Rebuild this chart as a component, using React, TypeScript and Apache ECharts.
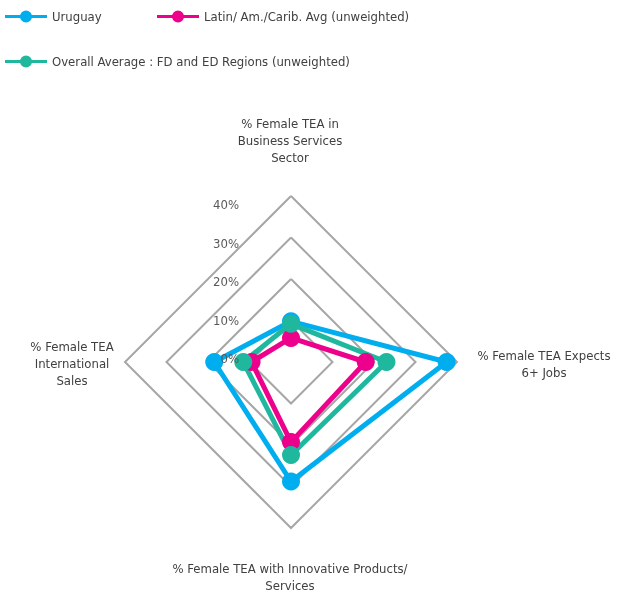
import React, { useEffect, useRef } from "react";
import * as echarts from "echarts";

const indicatorNames = [
  "% Female TEA in\nBusiness Services\nSector",
  "% Female TEA\nInternational\nSales",
  "% Female TEA with Innovative Products/\nServices",
  "% Female TEA Expects\n6+ Jobs",
];
const seriesNames = [
  "Uruguay",
  "Latin/ Am./Carib. Avg (unweighted)",
  "Overall Average : FD and ED Regions (unweighted)",
];
const uruguay = [9.8, 18.5, 28.8, 37.5];
const latinAvg = [5.8, 9.5, 19.3, 18.0];
const overallAvg = [9.2, 11.5, 22.4, 23.0];
const tickValues = [0, 10, 20, 30, 40];
const axisMax = 40;

const colors = ["#00AEEF", "#EC008C", "#1FB89E"];
const FONT = "'Liberation Sans Narrow', 'DejaVu Sans Condensed', sans-serif";
const LEGEND_ICON = "path://M0,4.5h42v3h-42zM15,6a6,6 0 1,1 12,0a6,6 0 1,1 -12,0z";

export default function App() {
  const ref = useRef<HTMLDivElement>(null);
  useEffect(() => {
    if (!ref.current) return;
    const chart = echarts.init(ref.current, undefined, { renderer: "svg" });
    const cx = 291;
    const cy = 362;
    const R = 166;
    const values = [uruguay, latinAvg, overallAvg];

    const labelPos = [
      { x: 290, y: 115, align: "center" },
      { x: 72, y: 338, align: "center" },
      { x: 290, y: 560, align: "center" },
      { x: 544, y: 347, align: "center" },
    ];

    const graphic: any[] = [];
    indicatorNames.forEach((n, i) => {
      graphic.push({
        type: "text",
        z: 100,
        style: {
          text: n,
          x: labelPos[i].x,
          y: labelPos[i].y,
          align: labelPos[i].align,
          verticalAlign: "top",
          lineHeight: 17,
          fill: "#404040",
          font: `13px ${FONT}`,
        },
      });
    });
    tickValues.forEach((v) => {
      graphic.push({
        type: "text",
        z: 100,
        style: {
          text: v + "%",
          x: 239,
          y: 358.4 - 3.84 * v,
          align: "right",
          verticalAlign: "middle",
          fill: "#595959",
          font: `13px ${FONT}`,
        },
      });
    });

    const legendBase = {
      icon: LEGEND_ICON,
      itemWidth: 42,
      itemHeight: 12,
      itemGap: 10,
      itemTextGap: 3,
      padding: 0,
      textStyle: { fontSize: 13, color: "#404040", fontFamily: FONT },
      selectedMode: false,
    };

    chart.setOption({
      animation: false,
      legend: [
        { ...legendBase, data: [seriesNames[0]], left: 5, top: 10 },
        { ...legendBase, data: [seriesNames[1]], left: 157, top: 10 },
        { ...legendBase, data: [seriesNames[2]], left: 5, top: 55 },
      ],
      radar: {
        center: [cx, cy],
        radius: R,
        shape: "polygon",
        startAngle: 90,
        splitNumber: 4,
        indicator: indicatorNames.map((n) => ({ name: n, min: 0, max: axisMax })),
        axisName: { show: false },
        axisLine: { show: false },
        axisTick: { show: false },
        axisLabel: { show: false },
        splitArea: { show: false },
        splitLine: { lineStyle: { color: "#A6A6A6", width: 2 } },
      },
      graphic,
      series: seriesNames.map((name, i) => ({
        type: "radar",
        name,
        symbol: "circle",
        symbolSize: 18,
        lineStyle: { width: 5, color: colors[i] },
        itemStyle: { color: colors[i] },
        data: [{ name, value: values[i] }],
      })),
    });
    return () => chart.dispose();
  }, []);
  return (
    <div
      ref={ref}
      style={{ position: "fixed", left: 0, top: 0, width: 618, height: 594 }}
    />
  );
}
